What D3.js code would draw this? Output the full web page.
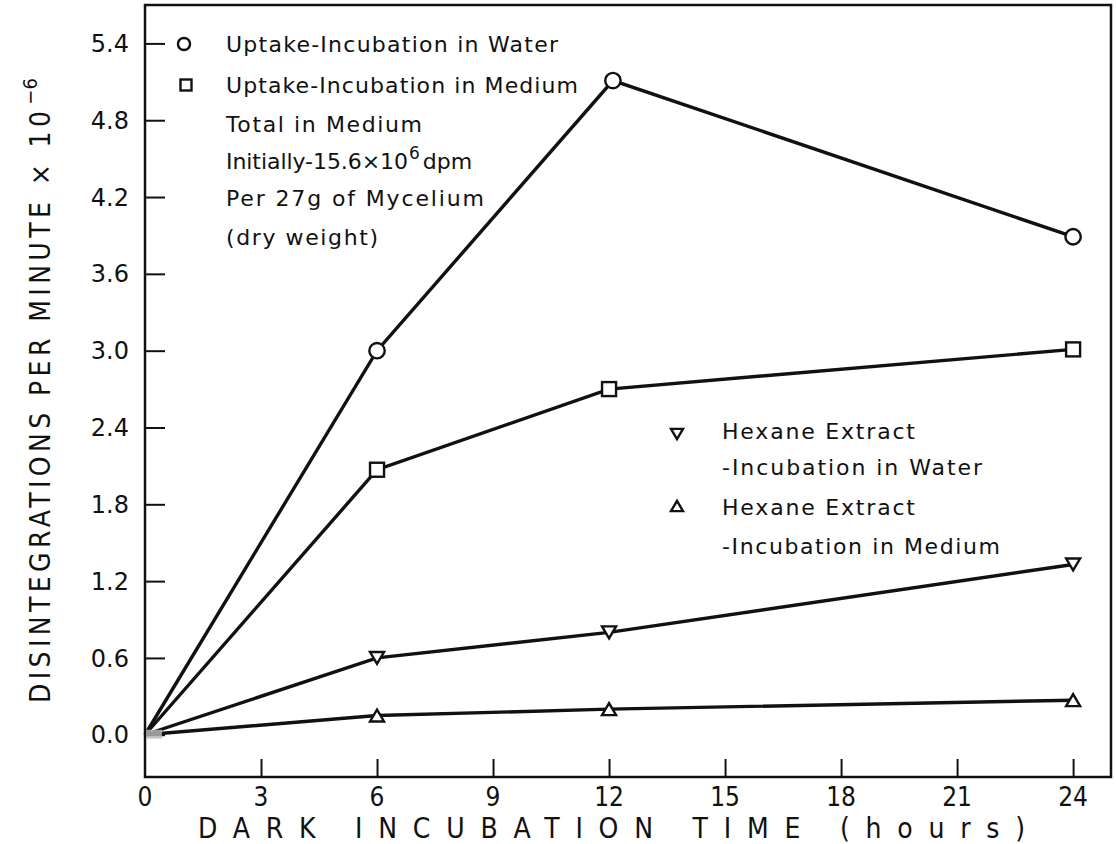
<!DOCTYPE html>
<html>
<head>
<meta charset="utf-8">
<script src="https://cdn.jsdelivr.net/npm/d3@7"></script>
<style>
	body { margin: 0; background: #fff; }
	text { font-family: 'DejaVu Sans', sans-serif; fill: #111; }
	text.narrow { font-family: 'DejaVu Sans Condensed', 'Liberation Sans Narrow', 'DejaVu Sans', sans-serif; font-stretch: condensed; }
</style>
</head>
<body>
<div id="js_chart"></div>
<script>
'use strict';
// data
const hours = [0, 6, 12, 24];
const peakHour = 12.1;
const uptakeWater = [0, 3.0, 5.11, 3.89];
const uptakeMedium = [0, 2.07, 2.70, 3.01];
const hexaneWater = [0, 0.60, 0.80, 1.33];
const hexaneMedium = [0, 0.15, 0.20, 0.27];
const xTicks = [0, 3, 6, 9, 12, 15, 18, 21, 24];
const yTicks = [0.0, 0.6, 1.2, 1.8, 2.4, 3.0, 3.6, 4.2, 4.8, 5.4];

const width = 1116;
const height = 844;
const margin = { top: 5, right: 5, bottom: 67, left: 145 };

const svg = d3.select('#js_chart').append('svg')
	.attr('width', width)
	.attr('height', height);

const x = d3.scaleLinear().domain([0, 24.98]).range([margin.left, width - margin.right]);
const y = d3.scaleLinear().domain([-0.33, 5.7]).range([height - margin.bottom, margin.top]);

// frame
svg.append('rect')
	.attr('x', x(0)).attr('y', y(5.7))
	.attr('width', x(24.98) - x(0)).attr('height', y(-0.33) - y(5.7))
	.attr('fill', 'none').attr('stroke', '#111').attr('stroke-width', 2.5);

// y axis: inward ticks
const yAxis = d3.axisRight(y).tickValues(yTicks).tickSize(20).tickFormat('');
svg.append('g').attr('transform', 'translate(' + x(0) + ',0)').call(yAxis)
	.call(g => g.select('.domain').remove())
	.call(g => g.selectAll('line').attr('stroke', '#111').attr('stroke-width', 2));
svg.append('g').selectAll('text').data(yTicks).enter().append('text')
	.attr('x', 129).attr('y', d => y(d)).attr('dy', '0.36em')
	.attr('text-anchor', 'end').attr('font-size', 24)
	.text(d => d.toFixed(1));

// x axis: inward ticks, no tick at 0
const xAxis = d3.axisTop(x).tickValues(xTicks.slice(1)).tickSize(18).tickFormat('');
svg.append('g').attr('transform', 'translate(0,' + y(-0.33) + ')').call(xAxis)
	.call(g => g.select('.domain').remove())
	.call(g => g.selectAll('line').attr('stroke', '#111').attr('stroke-width', 2));
svg.append('g').selectAll('text').data(xTicks).enter().append('text')
	.classed('narrow', true)
	.attr('x', d => x(d)).attr('y', 806)
	.attr('text-anchor', 'middle').attr('font-size', 26)
	.text(d => d);

// axis titles
svg.append('text')
	.classed('narrow', true)
	.attr('x', 198).attr('y', 838)
	.attr('font-size', 28)
	.attr('textLength', 827).attr('lengthAdjust', 'spacing')
	.text('DARK INCUBATION TIME (hours)');
const yTitle = svg.append('text')
	.classed('narrow', true)
	.attr('transform', 'translate(50,703) rotate(-90)')
	.attr('font-size', 28);
yTitle.append('tspan').attr('textLength', 592).attr('lengthAdjust', 'spacing')
	.text('DISINTEGRATIONS  PER MINUTE \u00d7 10');
yTitle.append('tspan').attr('dy', -13).attr('dx', 2).attr('font-size', 20).text('\u22126');

// series
const series = [
	{ key: 'water', xs: [0, 6, peakHour, 24], values: uptakeWater, shape: 'circle' },
	{ key: 'medium', xs: hours, values: uptakeMedium, shape: 'square' },
	{ key: 'hexW', xs: hours, values: hexaneWater, shape: 'down' },
	{ key: 'hexM', xs: hours, values: hexaneMedium, shape: 'up' }
];

const line = d3.line().x(d => x(d[0])).y(d => y(d[1]));

function drawMarker(g, shape, cx, cy, s) {
	if (shape === 'circle') {
		g.append('circle').attr('cx', cx).attr('cy', cy).attr('r', s * 0.55)
			.attr('fill', '#fff').attr('stroke', '#111').attr('stroke-width', 2.4);
	} else if (shape === 'square') {
		g.append('rect').attr('x', cx - s / 2).attr('y', cy - s / 2)
			.attr('width', s).attr('height', s)
			.attr('fill', '#fff').attr('stroke', '#111').attr('stroke-width', 2.4);
	} else {
		let h = s * 0.85;
		let pts = shape === 'down'
			? [[cx - s / 2, cy - h / 2], [cx + s / 2, cy - h / 2], [cx, cy + h / 2]]
			: [[cx - s / 2, cy + h / 2], [cx + s / 2, cy + h / 2], [cx, cy - h / 2]];
		g.append('polygon').attr('points', pts.map(p => p.join(',')).join(' '))
			.attr('fill', '#fff').attr('stroke', '#111').attr('stroke-width', 2.4);
	}
}

series.forEach(function (s) {
	let pts = s.xs.map((h, i) => [h, s.values[i]]);
	svg.append('path').datum(pts)
		.attr('d', line)
		.attr('fill', 'none').attr('stroke', '#111').attr('stroke-width', 3.4);
	let g = svg.append('g');
	pts.slice(1).forEach(p => drawMarker(g, s.shape, x(p[0]), y(p[1]), 14));
});

// grey blotch at origin
svg.append('rect').attr('x', x(0) + 1).attr('y', y(0) - 5).attr('width', 16).attr('height', 9)
	.attr('fill', '#bbb').attr('opacity', 0.8);

// legend, upper left
const lg = svg.append('g');
drawMarker(lg, 'circle', 184, 44, 11);
drawMarker(lg, 'square', 186, 85, 11);
const upperLines = [
	{ t: 'Uptake-Incubation in Water', y: 44, w: 332 },
	{ t: 'Uptake-Incubation in Medium', y: 85, w: 352 },
	{ t: 'Total in Medium', y: 124, w: 196 },
	{ t: 'Per 27g of Mycelium', y: 198, w: 258 },
	{ t: '(dry weight)', y: 237, w: 152 }
];
lg.selectAll('text.ul').data(upperLines).enter().append('text')
	.attr('x', 226).attr('y', d => d.y).attr('dy', '0.36em')
	.attr('font-size', 22)
	.attr('textLength', d => d.w).attr('lengthAdjust', 'spacing')
	.text(d => d.t);
const init = lg.append('text').attr('x', 226).attr('y', 161).attr('dy', '0.36em')
	.attr('font-size', 22);
init.append('tspan').attr('textLength', 182).attr('lengthAdjust', 'spacing').text('Initially-15.6\u00d710');
init.append('tspan').attr('dy', -10).attr('dx', 1).attr('font-size', 17).text('6');
init.append('tspan').attr('dy', 10).attr('dx', 3).text('dpm');

// legend, lower right
drawMarker(lg, 'down', 677, 434, 12);
drawMarker(lg, 'up', 677, 506, 12);
const lowerLines = [
	{ t: 'Hexane Extract', y: 431, w: 193 },
	{ t: '-Incubation in Water', y: 467, w: 260 },
	{ t: 'Hexane Extract', y: 507, w: 193 },
	{ t: '-Incubation in Medium', y: 546, w: 278 }
];
lg.selectAll('text.ll').data(lowerLines).enter().append('text')
	.attr('x', 722).attr('y', d => d.y).attr('dy', '0.36em')
	.attr('font-size', 22)
	.attr('textLength', d => d.w).attr('lengthAdjust', 'spacing')
	.text(d => d.t);
</script>
</body>
</html>
